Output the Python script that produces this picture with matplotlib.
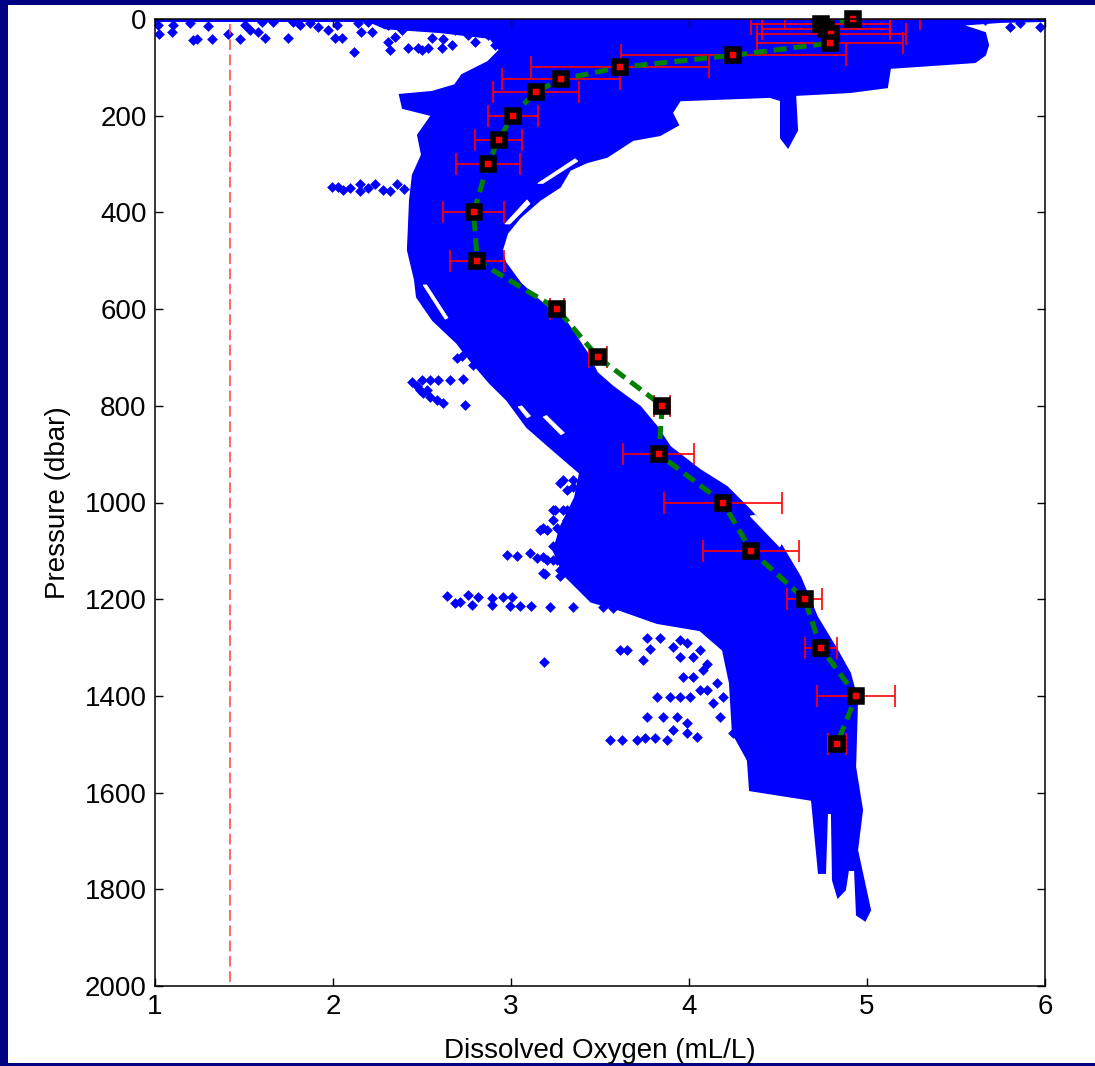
import matplotlib
matplotlib.use("Agg")
import matplotlib.pyplot as plt
from matplotlib.patches import Rectangle

plt.rcParams["font.family"] = ["Liberation Sans", "DejaVu Sans"]

# Mean dissolved-oxygen profile and its standard deviation
mean_pressure = [0, 10, 20, 30, 50, 75, 100, 125, 150, 200, 250, 300, 400,
                 500, 600, 700, 800, 900, 1000, 1100, 1200, 1300, 1400, 1500]
mean_oxygen = [4.92, 4.74, 4.77, 4.80, 4.79, 4.25, 3.61, 3.28, 3.14, 3.01,
               2.93, 2.87, 2.79, 2.81, 3.26, 3.49, 3.85, 3.83, 4.19, 4.35,
               4.65, 4.74, 4.94, 4.83]
oxygen_std = [0.38, 0.39, 0.36, 0.42, 0.41, 0.63, 0.50, 0.33, 0.24, 0.14,
              0.13, 0.18, 0.17, 0.15, 0.04, 0.05, 0.045, 0.20, 0.33, 0.27,
              0.10, 0.09, 0.22, 0.05]

# Outline of the dense cloud of individual float observations
cloud_oxygen = [1.00, 6.00, 6.00, 5.747, 5.522, 5.663, 5.680, 5.663, 5.607,
                5.129, 5.112, 4.904, 4.596, 4.607, 4.556, 4.517, 4.517,
                4.455, 3.949, 3.904, 3.938, 3.837, 3.685, 3.539, 3.427,
                3.331, 3.275, 3.163, 3.051, 2.978, 2.949, 2.966, 3.051,
                3.135, 3.202, 3.315, 3.427, 3.483, 3.573, 3.725, 3.820,
                3.893, 4.062, 4.213, 4.343, 4.511, 4.624, 4.719, 4.831,
                4.904, 4.944, 4.933, 4.972, 4.944, 5.017, 4.989, 4.944,
                4.933, 4.893, 4.876, 4.837, 4.809, 4.803, 4.775, 4.764,
                4.730, 4.691, 4.343, 4.331, 4.247, 4.230, 4.191, 4.062,
                3.820, 3.612, 3.45, 3.30, 3.24, 3.28, 3.36, 3.388, 3.236,
                3.090, 2.978, 2.882, 2.770, 2.697, 2.562, 2.472, 2.461,
                2.421, 2.433, 2.449, 2.500, 2.478, 2.556, 2.393, 2.376,
                2.556, 2.685, 2.725, 2.871, 2.938, 2.882, 2.601, 2.292,
                2.200, 1.00]
cloud_pressure = [0, 0, 4, 6, 12, 29, 54, 74, 89, 101, 141, 151, 157, 230,
                  265, 246, 168, 161, 168, 194, 219, 240, 250, 285, 296,
                  312, 347, 374, 410, 443, 478, 503, 546, 575, 596, 629,
                  691, 732, 761, 802, 844, 885, 933, 968, 1016, 1084, 1154,
                  1237, 1305, 1353, 1408, 1547, 1636, 1719, 1843, 1864,
                  1853, 1760, 1760, 1801, 1816, 1781, 1642, 1642, 1766,
                  1766, 1615, 1595, 1533, 1477, 1373, 1305, 1264, 1249,
                  1222, 1205, 1150, 1100, 1050, 990, 939, 891, 844, 788,
                  753, 705, 670, 623, 575, 540, 478, 374, 323, 281, 240,
                  199, 184, 157, 151, 137, 116, 89, 64, 39, 27, 19, 4, 4]

# Gaps inside the cloud where no observations fall
gap_upper_oxygen = [3.36, 3.376, 3.18, 3.15]
gap_upper_pressure = [289, 294, 340, 340]
gap_lobe_oxygen = [3.09, 3.107, 2.994, 2.965]
gap_lobe_pressure = [374, 382, 424, 424]
gap_left_oxygen = [2.506, 2.526, 2.646, 2.630]
gap_left_pressure = [550, 550, 618, 621]
gap_mid_oxygen = [3.04, 3.06, 3.11, 3.09]
gap_mid_pressure = [802, 800, 821, 825]
gap_deep_oxygen = [3.18, 3.20, 3.30, 3.28]
gap_deep_pressure = [823, 820, 856, 860]
gap_slope_oxygen = [4.343, 4.371, 4.53, 4.51]
gap_slope_pressure = [1028, 1026, 1078, 1092]

# Scattered observations outside the dense cloud
scatter_oxygen = [
    1.019, 1.103, 1.197, 1.30, 1.02, 1.094, 1.215, 1.234, 1.318, 1.41,
    1.478, 1.506, 1.534, 1.58, 1.618, 1.60, 1.665, 1.749, 1.777, 1.815,
    1.871, 1.918, 1.974, 2.02, 2.011, 2.049, 2.12, 2.142, 2.16, 2.198,
    2.217, 2.311, 2.32, 2.348, 2.386, 2.423, 2.479, 2.498, 2.536, 2.554,
    2.611, 2.62, 2.667, 2.685, 2.76, 2.798, 2.311, 2.348, 2.423, 2.498,
    2.573, 2.648, 2.723, 2.798, 2.854, 2.873, 2.91, 2.948, 2.985, 3.022,
    3.06, 3.079, 5.972, 5.86, 5.663, 5.803,
    1.993, 2.03, 2.058, 2.096, 2.152, 2.152, 2.199, 2.236, 2.283, 2.32,
    2.358, 2.40,
    2.442, 2.47, 2.498, 2.545, 2.592, 2.657, 2.732, 2.508, 2.545, 2.583,
    2.62, 2.742, 2.489, 2.526, 2.695, 2.723, 2.788,
    2.639, 2.685, 2.713, 2.76, 2.779, 2.816, 2.892, 2.892, 2.957, 3.004,
    2.994, 3.051, 3.11, 3.219, 3.35, 3.187, 3.556, 3.622, 3.706, 3.753,
    3.809, 2.976, 3.032, 3.107, 3.144, 3.2, 3.238, 3.191, 3.275, 3.163,
    3.2, 3.247, 3.294, 3.35, 3.425, 3.5, 3.238, 3.313, 3.388, 3.463,
    3.538, 3.275, 3.313, 3.35, 3.425, 3.463, 3.313, 3.388, 3.275, 3.35,
    3.388, 3.463, 3.463, 3.519, 3.575, 3.612, 3.65, 3.743, 3.781, 3.762,
    3.837, 3.912, 3.949, 3.987, 3.949, 4.024, 4.062, 4.1, 3.968, 4.024,
    4.08, 3.818, 3.893, 3.949, 4.006, 4.062, 4.1, 3.762, 3.856, 3.931,
    3.987, 3.912, 3.987, 4.043, 4.137, 4.174, 4.155, 4.193, 4.25, 3.874,
    3.294, 3.35, 3.406, 3.238, 3.313, 3.388, 3.463, 3.556, 3.182, 3.257,
    3.331, 3.406, 3.238, 3.313, 3.182, 3.257, 3.182, 3.313, 3.388, 3.425,
]
scatter_pressure = [
    12, 12, 9, 14, 30, 26, 43, 41, 41, 30,
    41, 12, 23, 26, 39, 6, 6, 39, 6, 12,
    9, 16, 23, 12, 39, 39, 69, 9, 26, 6,
    26, 47, 64, 37, 23, 61, 61, 64, 61, 40,
    61, 41, 54, 23, 33, 47, 12, 6, 6, 12,
    9, 6, 9, 12, 6, 33, 54, 74, 54, 81,
    95, 78, 17, 8, 2, 17,
    348, 347, 354, 350, 341, 355, 350, 341, 354, 355,
    341, 352,
    750, 760, 747, 747, 747, 747, 745, 774, 781, 788,
    795, 798, 767, 767, 702, 698, 716,
    1193, 1208, 1205, 1191, 1212, 1195, 1198, 1212, 1195, 1195,
    1214, 1214, 1214, 1217, 1217, 1329, 1491, 1491, 1491, 1488,
    1488, 1109, 1111, 1105, 1115, 1119, 1119, 1148, 1153, 1057,
    1057, 1015, 1015, 1012, 1012, 1009, 1036, 1036, 1043, 1029,
    1029, 960, 974, 953, 919, 919, 1084, 1091, 1140, 1140,
    1160, 1153, 1195, 1216, 1219, 1305, 1305, 1326, 1302, 1281,
    1281, 1298, 1284, 1291, 1319, 1319, 1305, 1333, 1360, 1360,
    1346, 1402, 1402, 1402, 1402, 1388, 1388, 1443, 1443, 1443,
    1457, 1471, 1477, 1484, 1415, 1443, 1374, 1402, 1477, 1491,
    953, 967, 953, 1015, 1015, 1015, 1009, 1015, 1053, 1053,
    1053, 1050, 1091, 1084, 1112, 1119, 1146, 1140, 1133, 916,
]

# Suboxic threshold marker
threshold_oxygen = 1.42
threshold_range = [10, 2000]

x_ticks = [1, 2, 3, 4, 5, 6]
y_ticks = [0, 200, 400, 600, 800, 1000, 1200, 1400, 1600, 1800, 2000]

W, H = 1095, 1066
fig = plt.figure(figsize=(W / 100, H / 100), dpi=100, facecolor="#000080")
fig.patches.append(Rectangle((8 / W, 3 / H), 1.0, 1058 / H,
                             transform=fig.transFigure, facecolor="white",
                             edgecolor="none", zorder=-10))

ax = fig.add_axes([155 / W, 1 - 986 / H, 890 / W, 967 / H])
ax.set_facecolor("white")

blue = "#0000ff"
ax.fill(cloud_oxygen, cloud_pressure, facecolor=blue, edgecolor=blue,
        linewidth=1.5, zorder=1)
for gx, gp in [(gap_upper_oxygen, gap_upper_pressure),
               (gap_lobe_oxygen, gap_lobe_pressure),
               (gap_left_oxygen, gap_left_pressure),
               (gap_mid_oxygen, gap_mid_pressure),
               (gap_deep_oxygen, gap_deep_pressure),
               (gap_slope_oxygen, gap_slope_pressure)]:
    ax.fill(gx, gp, facecolor="white", edgecolor="white", linewidth=0.5,
            zorder=1.1)
ax.scatter(scatter_oxygen, scatter_pressure, marker="D", s=30, color=blue,
           linewidths=0, zorder=1.2)

ax.plot([threshold_oxygen, threshold_oxygen], threshold_range,
        color="#ff4040", linewidth=1.1, dashes=(7, 3), zorder=2)

ax.errorbar(mean_oxygen, mean_pressure, xerr=oxygen_std, fmt="none",
            ecolor="#ff0000", elinewidth=1.2, capsize=8, capthick=1.2,
            zorder=3)
ax.plot(mean_oxygen, mean_pressure, color="#008000", linewidth=3.6,
        dashes=(2.6, 1.4), zorder=4)
ax.plot(mean_oxygen, mean_pressure, linestyle="none", marker="s",
        markersize=8, markeredgewidth=4, markeredgecolor="black",
        markerfacecolor="#ff0000", zorder=5, clip_on=False)

ax.set_xlim(1, 6)
ax.set_ylim(2000, 0)
ax.set_xticks(x_ticks)
ax.set_yticks(y_ticks)
ax.set_xticklabels([str(v) for v in x_ticks])
ax.set_yticklabels([str(v) for v in y_ticks])
ax.tick_params(direction="in", length=6, width=1, top=True, right=True,
               labelsize=20, pad=6, colors="black")
for s in ax.spines.values():
    s.set_linewidth(1.1)
    s.set_zorder(6)

ax.set_xlabel("Dissolved Oxygen (mL/L)", fontsize=20, labelpad=13)
ax.set_ylabel("Pressure (dbar)", fontsize=20, labelpad=10)

fig.savefig("out.png", dpi=100, facecolor=fig.get_facecolor())
